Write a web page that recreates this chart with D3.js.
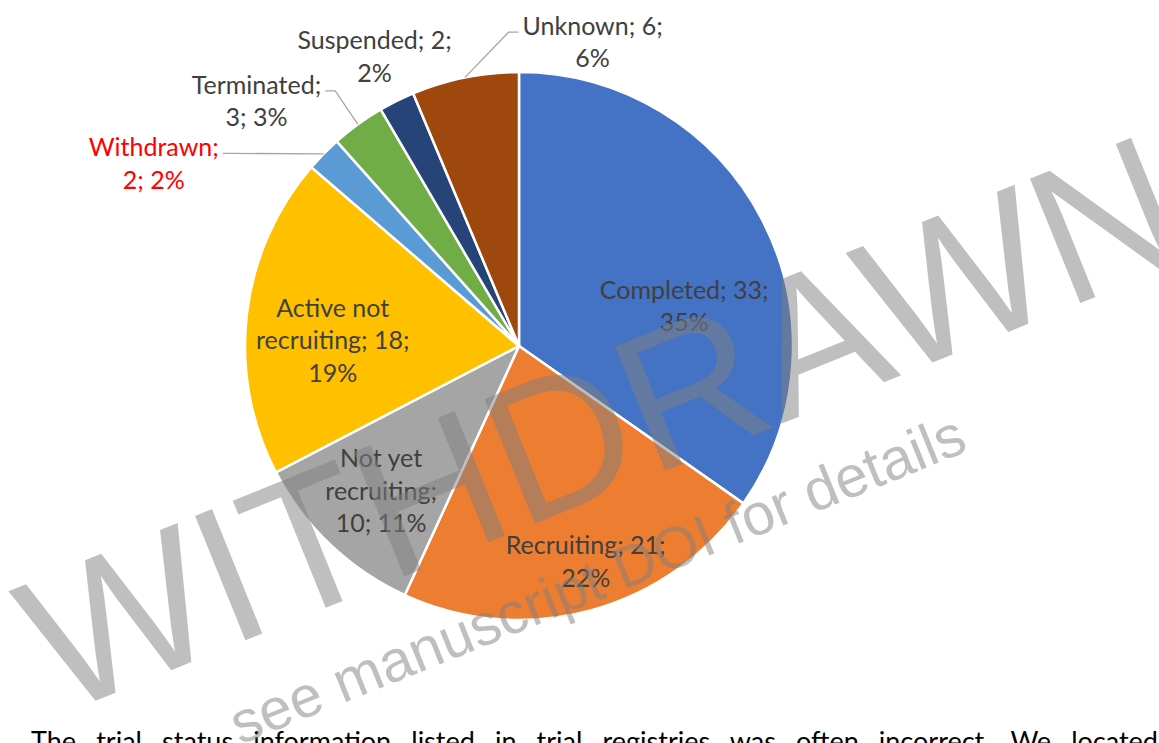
<!DOCTYPE html>
<html>
<head>
<meta charset="utf-8">
<script src="https://cdn.jsdelivr.net/npm/d3@7"></script>
<style>
  body { margin: 0; background: #fff; overflow: hidden; width: 1159px; height: 743px; }
  .para {
    position: absolute; left: 31px; width: 1127px; top: 727px; line-height: 1;
    font-family: Lato, "Open Sans", sans-serif; font-size: 27px; color: #000;
    text-align: justify; text-align-last: justify;
  }
  svg { position: absolute; left: 0; top: 0; }
</style>
</head>
<body>
<div class="para">The trial status information listed in trial registries was often incorrect. We located</div>
<script>
//////////////// Datas ////////////////////
var categories = ["Completed", "Recruiting", "Not yet recruiting", "Active not recruiting",
                  "Withdrawn", "Terminated", "Suspended", "Unknown"];
var counts = [33, 21, 10, 18, 2, 3, 2, 6];
var colors = ["#4472C4", "#ED7D31", "#A5A5A5", "#FFC000",
              "#5B9BD5", "#70AD47", "#264478", "#9E480E"];

// label placement (fraction of radius, angle shift in degrees, wrap width)
var labelRadius = [0.62, 0.825, 0.73, 0.68, 1.49, 1.31, 1.18, 1.14];
var labelShift  = [14, -2, 0, -5, -18, -11, 0, 25];
var labelWrap   = [190, 190, 125, 165, 145, 150, 170, 150];
var outside     = [false, false, false, false, true, true, false, true];

var width = 1159, height = 743;
var cx = 519, cy = 346, radius = 274;
var lineH = 32.5;

//////////////// SVG ////////////////////
var svg = d3.select("body")
  .append("svg")
  .attr("width", width)
  .attr("height", height);

var g = svg.append("g")
  .attr("transform", "translate(" + cx + "," + cy + ")");

var total = d3.sum(counts);
var data = counts.map(function(d, i) {
  return {name: categories[i], value: d, color: colors[i], idx: i};
});

var pie = d3.pie().sort(null).value(function(d) {return d.value;});
var arc = d3.arc().innerRadius(0).outerRadius(radius);
var arcs = pie(data);

//////////////// Slices ////////////////
g.selectAll("path.slice")
  .data(arcs)
  .enter()
  .append("path")
  .attr("class", "slice")
  .attr("d", arc)
  .attr("fill", function(d) {return d.data.color;})
  .attr("stroke", "#fff")
  .attr("stroke-width", 2.5)
  .style("stroke-linejoin", "round");

//////////////// Labels ////////////////
function polar(angleDeg, r) {
  var a = angleDeg * Math.PI / 180;
  return [r * Math.sin(a), -r * Math.cos(a)];
}

function wrapWords(txt, maxW, measure) {
  var words = txt.split(" ");
  var lines = [], cur = "";
  words.forEach(function(w) {
    var test = cur ? cur + " " + w : w;
    if (cur && measure(test) > maxW) {
      lines.push(cur);
      cur = w;
    } else cur = test;
  });
  if (cur) lines.push(cur);
  return lines;
}

var measurer = svg.append("text")
  .style("font-family", "Lato, 'Open Sans', sans-serif")
  .style("font-size", "25px");
function measure(s) {
  measurer.text(s);
  return measurer.node().getComputedTextLength();
}

var labelsG = g.append("g").attr("class", "labels");
arcs.forEach(function(d) {
  var i = d.data.idx;
  var pct = Math.round(d.data.value / total * 100);
  var txt = d.data.name + "; " + d.data.value + "; " + pct + "%";
  var lines = wrapWords(txt, labelWrap[i], measure);
  var mid = (d.startAngle + d.endAngle) / 2 * 180 / Math.PI;
  var pos = polar(mid + labelShift[i], radius * labelRadius[i]);
  var y0 = pos[1] - (lines.length - 1) * lineH / 2;

  var t = labelsG.append("text")
    .attr("text-anchor", "middle")
    .style("font-family", "Lato, 'Open Sans', sans-serif")
    .style("font-size", "25px")
    .attr("fill", d.data.name == "Withdrawn" ? "#FF0000" : "#404040");
  lines.forEach(function(l, k) {
    t.append("tspan")
      .attr("x", pos[0])
      .attr("y", y0 + k * lineH)
      .attr("dy", "0.35em")
      .text(l);
  });

  // leader line for outside labels
  if (outside[i]) {
    var edge = polar(mid, radius);
    var w = measure(lines[0]);
    var ly = y0 + 6;
    var side = edge[0] > pos[0] ? 1 : -1;
    var ex = pos[0] + side * (w / 2 + 4);
    var pts = [edge, [ex + side * 10, ly], [ex, ly]];
    labelsG.append("path")
      .attr("d", d3.line()(pts))
      .attr("fill", "none")
      .attr("stroke", "#A6A6A6")
      .attr("stroke-width", 1.3);
  }
});
measurer.remove();

//////////////// Watermark ////////////////
svg.append("text")
  .attr("transform", "translate(58,716) rotate(-22)")
  .style("font-family", "'Liberation Sans', Arial, sans-serif")
  .style("font-size", "195px")
  .attr("fill", "#7F7F7F")
  .attr("fill-opacity", 0.5)
  .text("WITHDRAWN");

svg.append("text")
  .attr("transform", "translate(240,745) rotate(-22)")
  .style("font-family", "'Liberation Sans', Arial, sans-serif")
  .style("font-size", "58.5px")
  .attr("fill", "#7F7F7F")
  .attr("fill-opacity", 0.5)
  .text("see manuscript DOI for details");
</script>
</body>
</html>
